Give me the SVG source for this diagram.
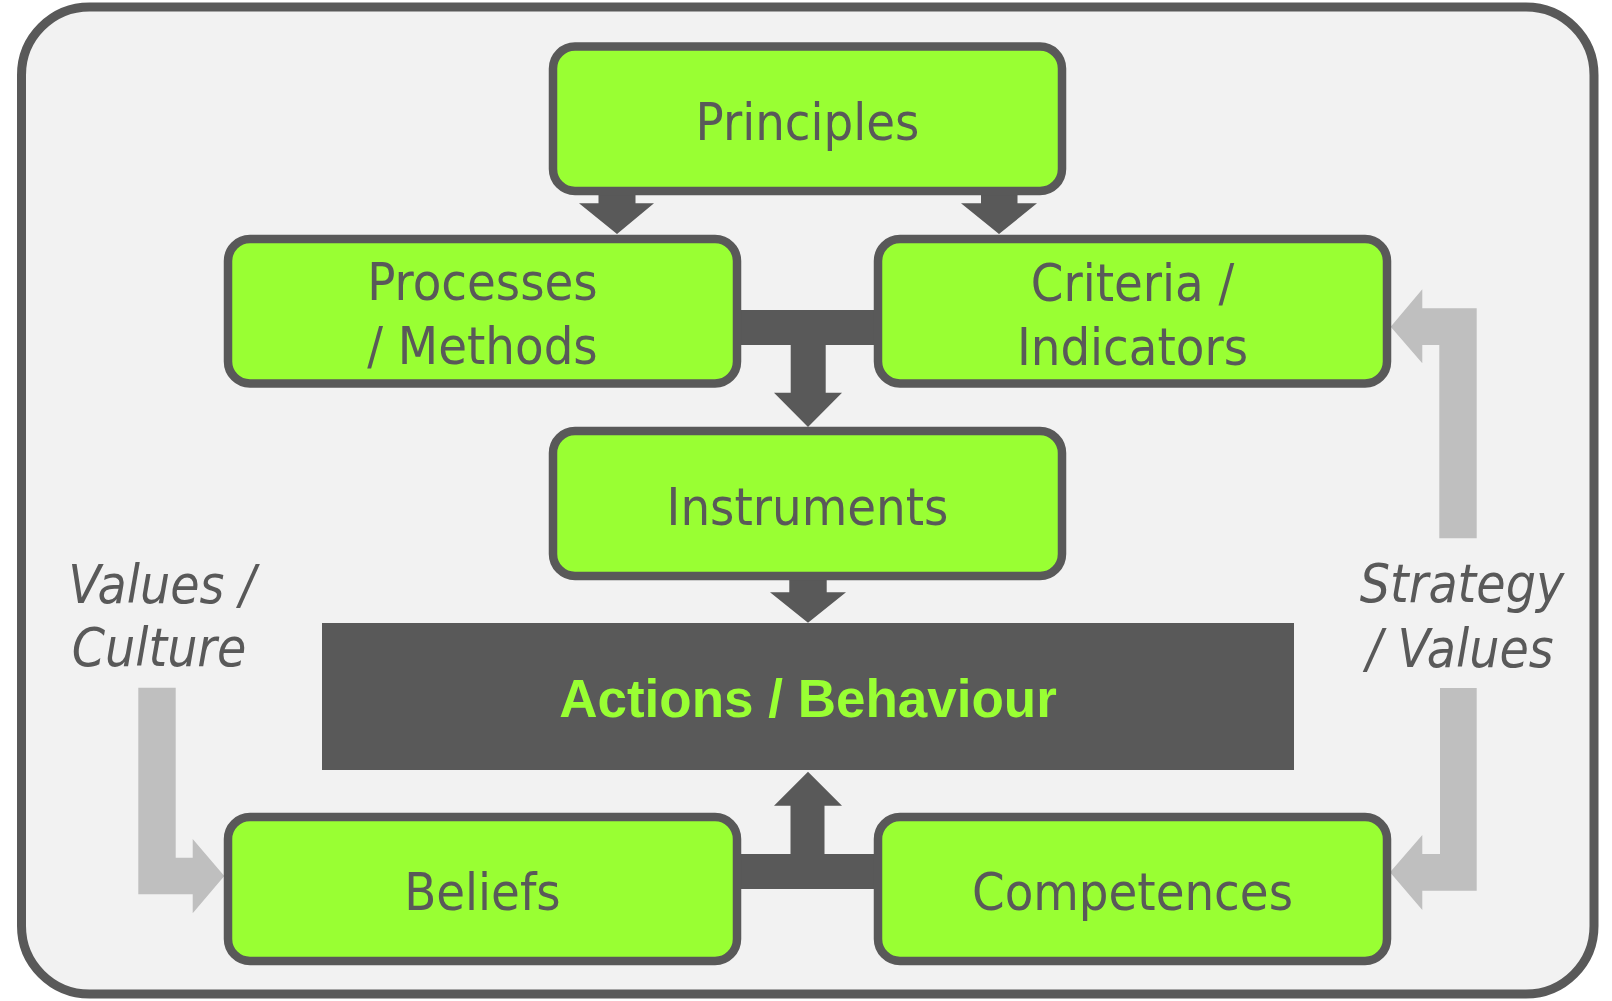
<svg xmlns="http://www.w3.org/2000/svg" width="1612" height="1001" viewBox="0 0 1612 1001">
  <style>
    .node { fill: #99ff33; stroke: #595959; stroke-width: 8.5; }
    .lbl { font-family: "DejaVu Sans Condensed", "DejaVu Sans", sans-serif; font-stretch: condensed; font-size: 52px; fill: #595959; text-anchor: middle; }
    .side { font-family: "DejaVu Sans Condensed", "DejaVu Sans", sans-serif; font-stretch: condensed; font-style: italic; font-size: 53px; fill: #595959; text-anchor: middle; }
    .dark { fill: #595959; }
    .soft { fill: #bfbfbf; }
  </style>

  <!-- canvas and frame -->
  <rect x="0" y="0" width="1612" height="1001" fill="#ffffff"/>
  <rect x="21.5" y="7" width="1572.5" height="987" rx="68" ry="68" fill="#f2f2f2" stroke="#595959" stroke-width="9"/>

  <!-- connectors -->
  <g id="connectors">
    <!-- Principles to Processes / Criteria -->
    <polygon class="dark" points="598.5,188 635.5,188 635.5,203.3 654,203.3 617,234 579,203.3 598.5,203.3"/>
    <polygon class="dark" points="981,188 1017.5,188 1017.5,203.3 1037,203.3 999,234 961,203.3 981,203.3"/>
    <!-- Processes + Criteria into Instruments -->
    <rect class="dark" x="735" y="310" width="145" height="35"/>
    <polygon class="dark" points="790.7,344 825.7,344 825.7,392.7 842,392.7 808,427 774,392.7 790.7,392.7"/>
    <!-- Instruments to Actions -->
    <polygon class="dark" points="789.3,578 826.7,578 826.7,592.3 846,592.3 808,622.7 770,592.3 789.3,592.3"/>
    <!-- Beliefs + Competences up to Actions -->
    <rect class="dark" x="735" y="854" width="145" height="35"/>
    <polygon class="dark" points="790.5,855 824.5,855 824.5,805.7 842,805.7 808,771.7 774,805.7 790.5,805.7"/>
    <!-- side influences -->
    <polygon class="soft" points="138.3,687.7 175.7,687.7 175.7,857.7 192.7,857.7 192.7,839 224.3,876 192.7,913.3 192.7,894.3 138.3,894.3"/>
    <polygon class="soft" points="1476.7,538.3 1439.3,538.3 1439.3,345 1422.3,345 1422.3,363.3 1390.7,326.7 1422.3,289.3 1422.3,308.3 1476.7,308.3"/>
    <polygon class="soft" points="1440,688 1476.7,688 1476.7,890.7 1422.3,890.7 1422.3,910 1390,872.3 1422.3,835 1422.3,854 1440,854"/>
  </g>

  <g id="principles">
    <rect class="node" x="553" y="46.5" width="509" height="144.5" rx="22" ry="22"/>
    <text class="lbl" x="807.5" y="140">Principles</text>
  </g>

  <g id="processes">
    <rect class="node" x="228" y="239" width="509" height="144.5" rx="22" ry="22"/>
    <text class="lbl" x="482.5" y="300">Processes</text>
    <text class="lbl" x="482.5" y="364">/ Methods</text>
  </g>

  <g id="criteria">
    <rect class="node" x="878" y="239" width="509" height="144.5" rx="22" ry="22"/>
    <text class="lbl" x="1132.5" y="300.5">Criteria /</text>
    <text class="lbl" x="1132.5" y="365">Indicators</text>
  </g>

  <g id="instruments">
    <rect class="node" x="553" y="431" width="509" height="145" rx="22" ry="22"/>
    <text class="lbl" x="807.5" y="525">Instruments</text>
  </g>

  <g id="actions">
    <rect x="322" y="623" width="972" height="147" fill="#595959"/>
    <text x="808" y="716.5" font-family="'Liberation Sans', Arial, sans-serif" font-weight="bold" font-size="53" fill="#99ff33" text-anchor="middle">Actions / Behaviour</text>
  </g>

  <g id="beliefs">
    <rect class="node" x="228" y="817" width="509" height="144" rx="22" ry="22"/>
    <text class="lbl" x="482.5" y="910">Beliefs</text>
  </g>

  <g id="competences">
    <rect class="node" x="878" y="817" width="509" height="144" rx="22" ry="22"/>
    <text class="lbl" x="1132.5" y="910">Competences</text>
  </g>

  <g id="values-culture">
    <text class="side" x="162" y="602.7">Values /</text>
    <text class="side" x="159" y="666">Culture</text>
  </g>

  <g id="strategy-values">
    <text class="side" x="1462" y="601.7">Strategy</text>
    <text class="side" x="1460" y="666.7">/ Values</text>
  </g>
</svg>
